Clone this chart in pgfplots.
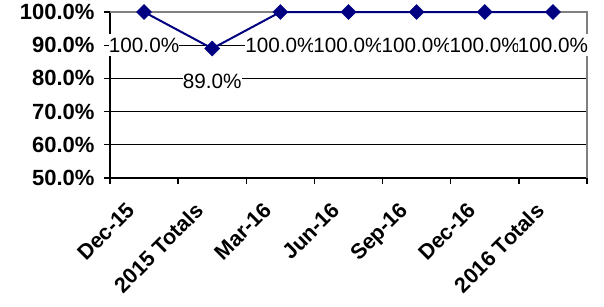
\documentclass[border=0pt]{standalone}
\usepackage{pgfplots}
\pgfplotsset{compat=1.18}
\usepackage{fontspec}
\setmainfont{Liberation Sans}
\definecolor{navyline}{RGB}{0,0,128}
\definecolor{bordergray}{RGB}{128,128,128}
\begin{document}
\begin{tikzpicture}
\path[use as bounding box] (0,0) rectangle (604pt,307pt);
\begin{axis}[
  at={(110pt,129pt)}, anchor=south west,
  scale only axis, width=477pt, height=166pt,
  xmin=-0.5, xmax=6.5, ymin=50, ymax=100,
  axis x line*=bottom, axis y line*=left,
  axis line style={black, line width=1.4pt, -},
  clip=false,
  ytick={50,60,70,80,90,100},
  yticklabels={50.0\%,60.0\%,70.0\%,80.0\%,90.0\%,100.0\%},
  minor ytick={50,60,70,80,90,100},
  yticklabel style={font=\fontsize{22}{24}\selectfont\bfseries, xshift=-12pt},
  ymajorgrids, grid style={black, line width=1.4pt},
  xtick={0,1,2,3,4,5,6},
  xticklabels={Dec-15,2015 Totals,Mar-16,Jun-16,Sep-16,Dec-16,2016 Totals},
  xticklabel style={font=\fontsize{21.5}{24}\selectfont\bfseries, rotate=45, anchor=north east, xshift=-26pt, yshift=0pt},
  minor xtick={-0.5,0.5,...,6.5},
  tick style={black, line width=1.4pt},
  major tick length=0pt, minor tick length=6pt,
  tick align=outside,
  point meta=explicit symbolic,
  nodes near coords,
  every node near coord/.append style={font=\fontsize{20.7}{23}\selectfont, fill=white, inner xsep=0.3pt, inner ysep=4pt, anchor=center, yshift=-33pt, text=black},
]
\draw[bordergray, line width=1.4pt] (axis cs:-0.5,100) -- (axis cs:6.5,100) -- (axis cs:6.5,50);
\addplot[navyline, line width=2pt, mark=square*, mark size=5.3pt, mark options={rotate=45, fill=navyline, draw=navyline, line width=0.5pt}]
  coordinates {
  (0,100.0) [100.0\%]
  (1,89.0) [89.0\%]
  (2,100.0) [100.0\%]
  (3,100.0) [100.0\%]
  (4,100.0) [100.0\%]
  (5,100.0) [100.0\%]
  (6,100.0) [100.0\%]
  };
\end{axis}
\end{tikzpicture}
\end{document}
